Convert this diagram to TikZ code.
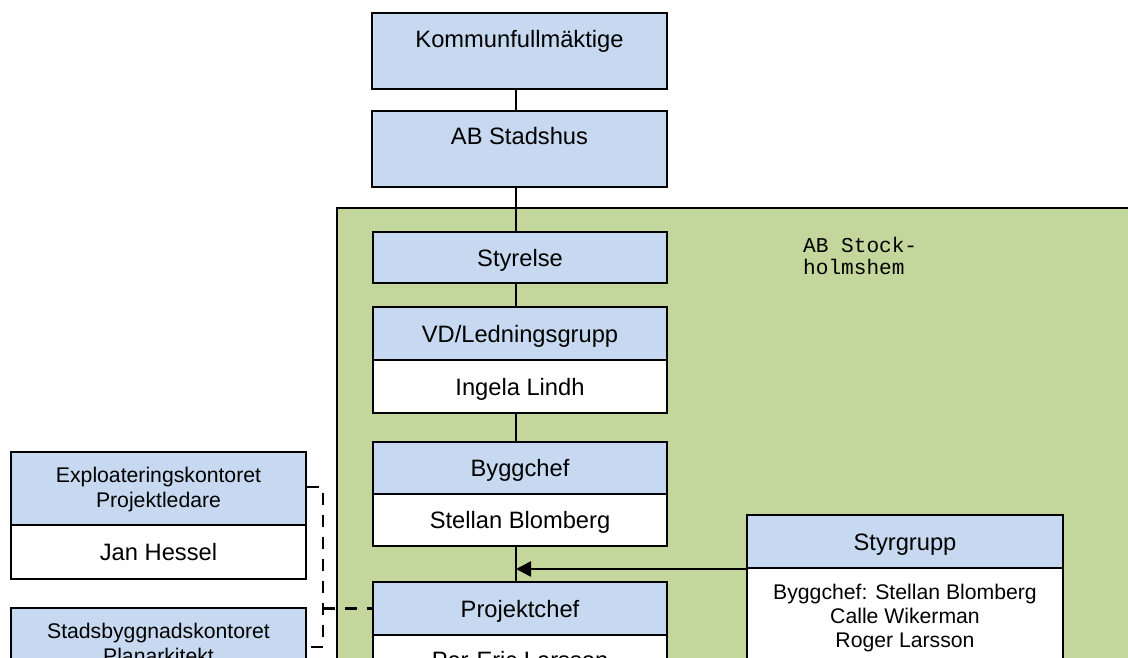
\documentclass[tikz,border=0pt]{standalone}
\usepackage{fontspec}
\setmainfont{Liberation Sans}
\newfontfamily\monof{Liberation Mono}
\usetikzlibrary{arrows.meta}
\definecolor{boxblue}{RGB}{198,217,240}
\definecolor{orggreen}{RGB}{195,214,155}
\begin{document}
\begin{tikzpicture}[x=1pt,y=-1pt,
 box/.style={draw=black, line width=2pt, rectangle, inner sep=0pt},
 hd/.style={box, fill=boxblue},
 wt/.style={box, fill=white},
 big/.style={font=\fontsize{23.7}{27}\selectfont},
 small/.style={font=\fontsize{21.2}{24}\selectfont},
 ctext/.style={text height=17pt, text depth=0pt},
 link/.style={line width=2.6pt},
 dlink/.style={line width=2.6pt, dash pattern=on 12pt off 10pt}
]
\useasboundingbox (0,0) rectangle (1128,658);
\clip (0,0) rectangle (1128,658);

% green container
\filldraw[fill=orggreen, draw=black, line width=2pt] (336.5,208) rectangle (1145,720);
\node[anchor=base west, inner sep=0pt, align=left, font=\monof\fontsize{21.1}{22}\selectfont] (abst) at (803,274) {AB Stock-\\holmshem};

% top boxes
\node[hd, minimum width=295pt, minimum height=76pt] (kf) at (519.5,51) {};
\node[big, anchor=base, inner sep=0pt] (kft) at (519.5,48) {Kommunfullmäktige};
\node[hd, minimum width=295pt, minimum height=76pt] (abs) at (519.5,149) {};
\node[big, anchor=base, inner sep=0pt] (abst2) at (519.5,145) {AB Stadshus};

% column inside green
\node[hd, big, ctext, minimum width=294pt, minimum height=51pt] (sty) at (520,257.5) {Styrelse};
\node[hd, big, ctext, minimum width=294pt, minimum height=53pt] (vd) at (520,333.5) {VD/Ledningsgrupp};
\node[wt, big, ctext, minimum width=294pt, minimum height=53pt] (vdw) at (520,386.5) {Ingela Lindh};
\node[hd, big, ctext, minimum width=294pt, minimum height=52pt] (bc) at (520,468) {Byggchef};
\node[wt, big, ctext, minimum width=294pt, minimum height=52pt] (bcw) at (520,520) {Stellan Blomberg};
\node[hd, big, ctext, minimum width=294pt, minimum height=53pt] (pc) at (520,608.5) {Projektchef};
\node[wt, minimum width=294pt, minimum height=65pt] (pcw) at (520,667.5) {};
\node[big, anchor=base, inner sep=0pt] (pct) at (520,668) {Per-Eric Larsson};

% styrgrupp
\node[hd, big, ctext, minimum width=316pt, minimum height=53pt] (sg) at (905,541.5) {Styrgrupp};
\node[wt, minimum width=316pt, minimum height=132pt] (sgw) at (905,634) {};
\node[small, anchor=north, inner sep=0pt, align=center] (sgt) at (905,584) {Byggchef: Stellan Blomberg\\Calle Wikerman\\Roger Larsson};

% left boxes
\node[hd, minimum width=295pt, minimum height=73pt] (ex) at (158.5,488.5) {};
\node[small, inner sep=0pt, align=center, font=\fontsize{21.2}{25}\selectfont] (ext) at (158.5,490) {Exploateringskontoret\\Projektledare};
\node[wt, big, ctext, minimum width=295pt, minimum height=54pt] (exw) at (158.5,552) {Jan Hessel};
\node[hd, minimum width=295pt, minimum height=92pt] (sb) at (158.5,654) {};
\node[small, anchor=north, inner sep=0pt, align=center, font=\fontsize{21.2}{25}\selectfont] (sbt) at (158.5,623) {Stadsbyggnadskontoret\\Planarkitekt};

% connectors
\draw[link] ([xshift=-3.5pt]kf.south) -- ([xshift=-3.5pt]abs.north);
\draw[link] ([xshift=-3.5pt]abs.south) -- ([xshift=-4pt]sty.north);
\draw[link] ([xshift=-4pt]sty.south) -- ([xshift=-4pt]vd.north);
\draw[link] ([xshift=-4pt]vdw.south) -- ([xshift=-4pt]bc.north);
\draw[link] ([xshift=-4pt]bcw.south) -- ([xshift=-4pt]pc.north);
\coordinate (aj) at (516,569);
\draw[link, -{Triangle[length=15pt,width=15pt]}] (sg.south west) -- (aj);

% dashed links
\coordinate (d1) at (323,487);
\coordinate (d2) at (323,647);
\draw[dlink] (ex.east |- d1) -- (d1) -- (d2) -- (d2 -| sb.east);
\draw[dlink] (d2 |- pc.west) -- (pc.west);
\end{tikzpicture}
\end{document}
